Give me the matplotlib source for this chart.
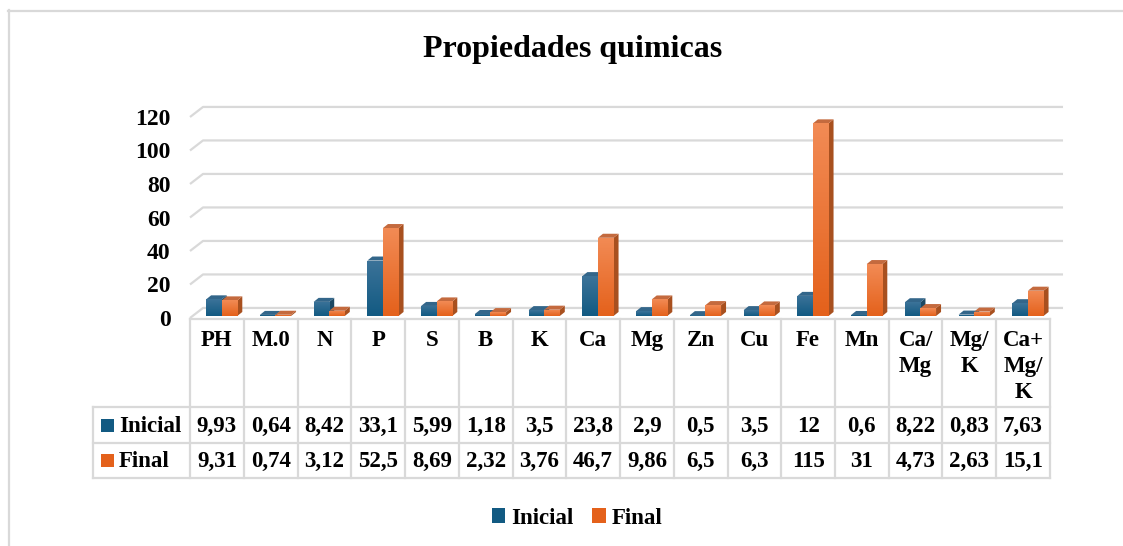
import numpy as np
import matplotlib
matplotlib.use("Agg")
import matplotlib.pyplot as plt
from matplotlib.colors import LinearSegmentedColormap
from matplotlib.patches import Polygon, Rectangle, Patch
from matplotlib.lines import Line2D

plt.rcParams['font.family'] = ['Liberation Serif', 'DejaVu Serif']
plt.rcParams['font.weight'] = 'bold'

# data
categorias = ['PH', 'M.0', 'N', 'P', 'S', 'B', 'K', 'Ca', 'Mg', 'Zn', 'Cu', 'Fe',
              'Mn', 'Ca/\nMg', 'Mg/\nK', 'Ca+\nMg/\nK']
inicial = [9.93, 0.64, 8.42, 33.1, 5.99, 1.18, 3.5, 23.8, 2.9, 0.5, 3.5, 12, 0.6, 8.22, 0.83, 7.63]
final = [9.31, 0.74, 3.12, 52.5, 8.69, 2.32, 3.76, 46.7, 9.86, 6.5, 6.3, 115, 31, 4.73, 2.63, 15.1]
series = ['Inicial', 'Final']
yticks = [0, 20, 40, 60, 80, 100, 120]

W, H = 1123, 546
fig = plt.figure(figsize=(W / 100, H / 100), dpi=100)

grid_c = '#D9D9D9'
n = len(categorias)
# 3d look offsets (category units / value units)
gdx, gdy = 0.242, 6.0      # back wall shift
bdx, bdy = 0.093, 2.4      # bar depth
base = 1.2
bw = 0.29

xlim = (-0.5, n - 0.5 + gdx)
ylim = (0, 126)
px_x = 53.75
left = 190
ax = fig.add_axes([left / W, (H - 318) / H, (xlim[1] - xlim[0]) * px_x / W, 126 * 1.675 / H])
ax.set_xlim(*xlim)
ax.set_ylim(*ylim)
for s in ax.spines.values():
    s.set_visible(False)
ax.set_xticks([])
ax.set_yticks(yticks)
ax.set_yticklabels([str(t) for t in yticks], fontsize=17, fontweight='bold')
ax.tick_params(axis='y', length=0, pad=14)

# gridlines on back wall + left side
for t in yticks:
    ax.plot([-0.5, -0.5 + gdx, n - 0.5 + gdx], [t, t + gdy, t + gdy], color=grid_c, lw=1.6, zorder=1,
            clip_on=False, solid_capstyle='butt')

styles = {
    'Inicial': dict(dark='#125A82', light='#3C7399', top='#33668A', side='#1C4862'),
    'Final': dict(dark='#E4611B', light='#F28B55', top='#C46A3E', side='#A8501F'),
}
offs = {'Inicial': -0.2, 'Final': 0.09}
grad = np.linspace(0, 1, 200).reshape(-1, 1)

for name, vals in zip(series, [inicial, final]):
    st = styles[name]
    cmap = LinearSegmentedColormap.from_list(name, [st['dark'], st['light']])
    for i, v in enumerate(vals):
        x0 = i + offs[name]
        x1 = x0 + bw
        y0 = base
        y1 = base + v
        front = Rectangle((x0, y0), bw, v, facecolor='none', edgecolor='none', zorder=3)
        ax.add_patch(front)
        im = ax.imshow(grad, cmap=cmap, extent=[x0, x1, y0, y1], origin='lower',
                       aspect='auto', zorder=3, interpolation='bilinear')
        im.set_clip_path(front)
        side = Polygon([(x1, y0), (x1 + bdx, y0 + bdy), (x1 + bdx, y1 + bdy), (x1, y1)],
                       closed=True, facecolor=st['side'], edgecolor='none', zorder=2.9)
        top = Polygon([(x0, y1), (x0 + bdx, y1 + bdy), (x1 + bdx, y1 + bdy), (x1, y1)],
                      closed=True, facecolor=st['top'], edgecolor='none', zorder=2.9)
        ax.add_patch(side)
        ax.add_patch(top)
ax.set_xlim(*xlim)
ax.set_ylim(*ylim)

# data table (y in pixels from top)
t_top, r1, r2, t_bot = 319, 407, 443, 478
axt = fig.add_axes([left / W, (H - t_bot) / H, (xlim[1] - xlim[0]) * px_x / W, (t_bot - t_top) / H])
axt.set_xlim(*xlim)
axt.set_ylim(t_bot, t_top)
axt.axis('off')
xl = -0.5 - (190 - 93) / px_x
lk = dict(color=grid_c, lw=1.6, clip_on=False, solid_capstyle='projecting')
axt.plot([-0.5, n - 0.5], [t_top, t_top], **lk)
for yy in (r1, r2, t_bot):
    axt.plot([xl, n - 0.5], [yy, yy], **lk)
for i in range(n + 1):
    axt.plot([i - 0.5, i - 0.5], [t_top, t_bot], **lk)
axt.plot([xl, xl], [r1, t_bot], **lk)

fs = 16.5
for i, c in enumerate(categorias):
    axt.text(i, 330, c, ha='center', va='top', fontsize=fs, fontweight='bold',
             linespacing=1.32, clip_on=False)
fmt = lambda v: f"{v:g}".replace('.', ',')
for yy, vals in zip([(r1 + r2) / 2, (r2 + t_bot) / 2], [inicial, final]):
    for i, v in enumerate(vals):
        axt.text(i, yy + 1, fmt(v), ha='center', va='center', fontsize=fs, fontweight='bold',
                 clip_on=False)
kw = 13 / px_x
for yy, name in zip([(r1 + r2) / 2, (r2 + t_bot) / 2], series):
    kx = xl + (101 - 93) / px_x
    axt.add_patch(Rectangle((kx, yy - 6.5), kw, 13, facecolor=styles[name]['dark'],
                            edgecolor='none', clip_on=False))
    axt.text(kx + kw + 5 / px_x, yy + 1, name, ha='left', va='center', fontsize=fs,
             fontweight='bold', clip_on=False)

# title
fig.text(572.5 / W, 1 - 49 / H, 'Propiedades quimicas', ha='center', va='center',
         fontsize=23, fontweight='bold')

# legend
handles = [Patch(facecolor=styles[s]['dark'], edgecolor='none') for s in series]
fig.legend(handles, series, loc='center', bbox_to_anchor=(577 / W, 1 - 518 / H), ncol=2,
           frameon=False, fontsize=fs, handlelength=0.6, handleheight=0.6,
           handletextpad=0.25, columnspacing=0.8, prop={'weight': 'bold', 'size': fs})

# chart frame (cropped)
fig.add_artist(Line2D([8 / W, 1], [1 - 10.5 / H, 1 - 10.5 / H], color=grid_c, lw=1.6,
                      transform=fig.transFigure))
fig.add_artist(Line2D([8.5 / W, 8.5 / W], [0, 1 - 10 / H], color=grid_c, lw=1.6,
                      transform=fig.transFigure))

fig.savefig('out.png', dpi=100, facecolor='white')
